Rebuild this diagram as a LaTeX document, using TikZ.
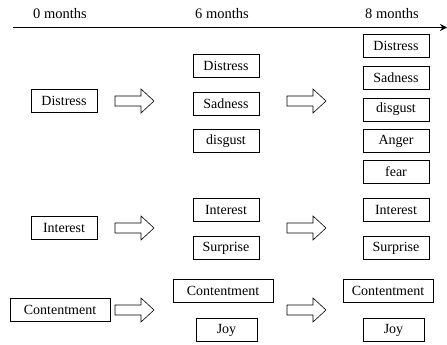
\documentclass[tikz,border=0pt]{standalone}
\usepackage{fontspec}
\setmainfont{Liberation Serif}
\usetikzlibrary{arrows.meta}
\begin{document}
\begin{tikzpicture}[x=1pt,y=-1pt,
  box/.style={draw,line width=0.6pt,minimum height=23pt,inner sep=0pt,font=\fontsize{14}{16}\selectfont},
  wb/.style={box,minimum width=66pt},
  lab/.style={font=\fontsize{14.5}{16}\selectfont},
  blk/.style={draw,line width=0.6pt}]
\useasboundingbox (0,0) rectangle (447,345);
% axis
\coordinate (a0) at (13,27.5);
\coordinate (a1) at (447,27.5);
\draw[line width=1pt,-{Stealth[length=7pt,width=7pt]}] (a0) -- (a1);
\node[lab] (m0) at (60,14) {0 months};
\node[lab] (m6) at (222,14) {6 months};
\node[lab] (m8) at (392,14) {8 months};
% column 0
\node[wb] (d0) at (64,100.5) {Distress};
\node[wb] (i0) at (64,228) {Interest};
\node[box,minimum width=100pt] (c0) at (60,309.5) {Contentment};
% column 1
\node[wb] (d1) at (226,66) {Distress};
\node[wb] (s1) at (226,104) {Sadness};
\node[wb] (g1) at (226,141) {disgust};
\node[wb] (i1) at (226,209.5) {Interest};
\node[wb] (u1) at (226,248) {Surprise};
\node[box,minimum width=100pt] (c1) at (223,290.5) {Contentment};
\node[box,minimum width=61pt] (j1) at (226.5,330) {Joy};
% column 2
\node[wb] (d2) at (396,46) {Distress};
\node[wb] (s2) at (396,78) {Sadness};
\node[wb] (g2) at (396,109.5) {disgust};
\node[wb] (n2) at (396,141) {Anger};
\node[wb] (f2) at (396,171.5) {fear};
\node[wb] (i2) at (396,209.5) {Interest};
\node[wb] (u2) at (396,248) {Surprise};
\node[box,minimum width=90pt] (c2) at (388,290.5) {Contentment};
\node[box,minimum width=61pt] (j2) at (393.5,330) {Joy};
% block arrows
\foreach \x/\y in {115/101, 287/101, 115/228, 287/228, 115/310, 287/310}{
  \draw[blk] (\x,\y-5) -- (\x+26,\y-5) -- (\x+26,\y-12) -- (\x+39,\y) -- (\x+26,\y+12) -- (\x+26,\y+5) -- (\x,\y+5) -- cycle;
}
\end{tikzpicture}
\end{document}
